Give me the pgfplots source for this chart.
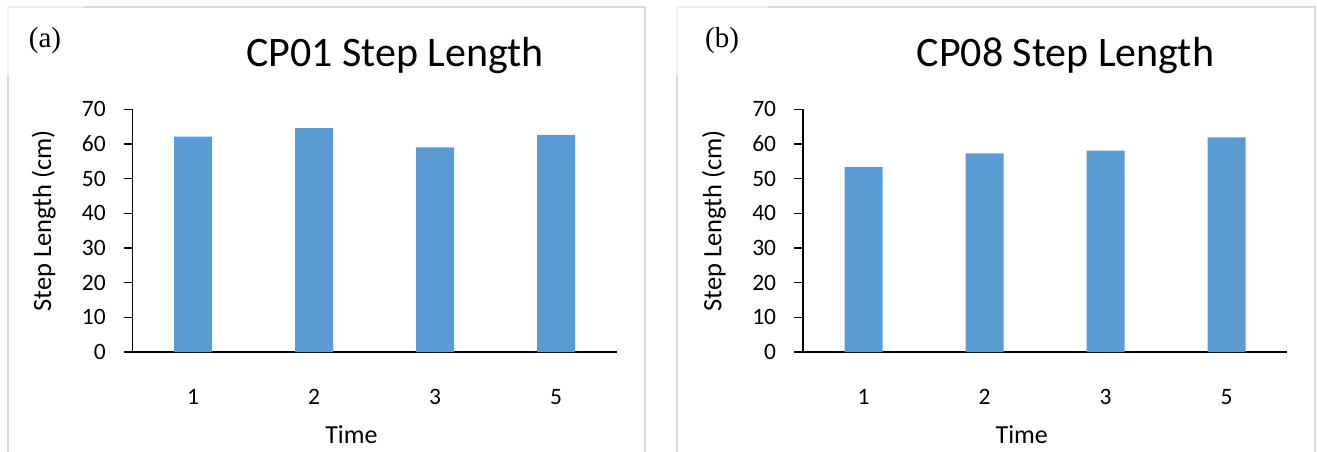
\documentclass[border=0pt]{standalone}
\usepackage{pgfplots}
\pgfplotsset{compat=1.18}
\usepackage{fontspec}
\setmainfont{Carlito}
\newfontfamily\timesfont{Liberation Serif}
\definecolor{barblue}{HTML}{5B9BD5}
\definecolor{framegray}{HTML}{D9D9D9}
\definecolor{framelight}{HTML}{EFEFEF}
\pgfplotstableread{
x y
1 62.1
2 64.6
3 59.0
4 62.6
}\cpone
\pgfplotstableread{
x y
1 53.3
2 57.3
3 58.1
4 61.9
}\cpeight
\pgfplotsset{
  panel/.style={
    scale only axis,
    width=484pt, height=242.7pt,
    xmin=0.5, xmax=4.5, ymin=0, ymax=70,
    ytick={0,10,...,70},
    xtick={1,2,3,4}, xticklabels={1,2,3,5},
    axis x line*=bottom, axis y line*=left,
    axis line style={-, line width=1.4pt, black},
    tick align=outside, major tick length=9pt,
    ytick style={line width=1.4pt, black},
    xtick style={draw=none},
    /pgf/number format/assume math mode=true,
    tick label style={font=\fontsize{23.5}{28}\selectfont},
    yticklabel style={anchor=east, inner sep=0pt, xshift=-17.7pt},
    xticklabel style={anchor=base, inner sep=0pt, yshift=-43.5pt},
    title style={font=\fontsize{42}{50}\selectfont, at={(0.542,1)}, anchor=base, yshift=37.3pt, inner sep=0pt},
    xlabel style={font=\fontsize{26}{31}\selectfont, at={(0.452,0)}, anchor=base, yshift=-91pt, inner sep=0pt},
    ylabel style={font=\fontsize{26.5}{31}\selectfont, at={(-0.1839,0.54)}, anchor=center, inner sep=0pt},
    xlabel={Time}, ylabel={Step Length (cm)},
    ybar, bar width=38pt, bar shift=0pt,
    enlarge y limits=false,
  }
}
\begin{document}
\begin{tikzpicture}[x=1pt,y=1pt]
\useasboundingbox (0,0) rectangle (1317,451);
\clip (0,0) rectangle (1317,451);
% frames
\draw[framegray, line width=1.5pt] (83,444) -- (645,444) -- (645,-5);
\draw[framegray, line width=1.5pt] (8,376) -- (8,-5);
\draw[framelight, line width=1.5pt] (8,376) -- (8,444) -- (83,444);
\draw[framegray, line width=1.5pt] (768,444) -- (1315,444) -- (1315,-5);
\draw[framegray, line width=1.5pt] (677,376) -- (677,-5);
\draw[framelight, line width=1.5pt] (677,376) -- (677,444) -- (768,444);
\begin{axis}[panel, at={(132.7pt,99pt)}, anchor=south west, title={CP01 Step Length}]
\addplot[fill=barblue, draw=none] table[x=x,y=y]{\cpone};
\end{axis}
\begin{axis}[panel, at={(803pt,99pt)}, anchor=south west, title={CP08 Step Length}]
\addplot[fill=barblue, draw=none] table[x=x,y=y]{\cpeight};
\end{axis}
\node[font=\timesfont\fontsize{29}{34}\selectfont, inner sep=0pt] at (45,410) {(a)};
\node[font=\timesfont\fontsize{29}{34}\selectfont, inner sep=0pt] at (722,410) {(b)};
\end{tikzpicture}
\end{document}
